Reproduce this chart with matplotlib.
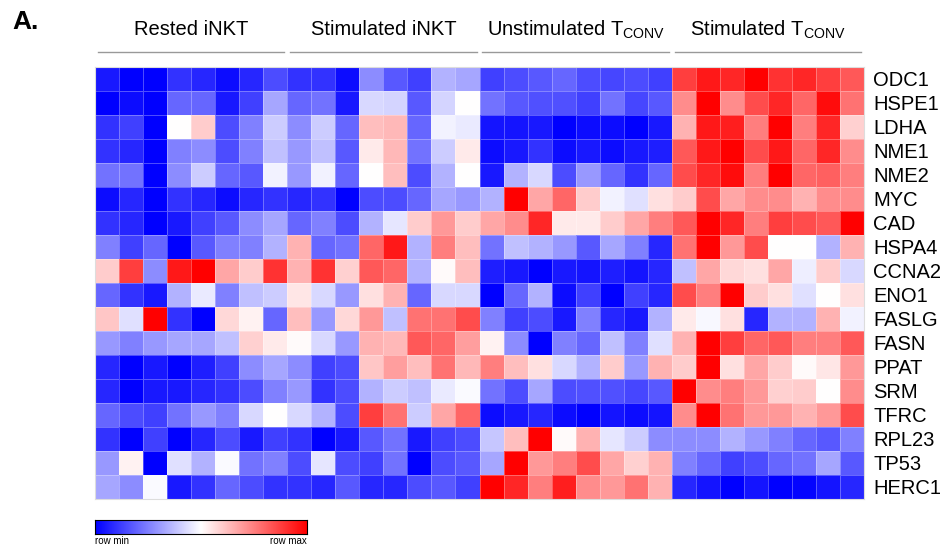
import numpy as np
import matplotlib
matplotlib.use("Agg")
import matplotlib.pyplot as plt
from matplotlib.colors import LinearSegmentedColormap
from matplotlib.transforms import blended_transform_factory

plt.rcParams['font.family'] = ['Liberation Sans', 'DejaVu Sans']
plt.rcParams['mathtext.fontset'] = 'custom'
plt.rcParams['mathtext.rm'] = 'Liberation Sans'
plt.rcParams['mathtext.it'] = 'Liberation Sans:italic'

genes = ['ODC1', 'HSPE1', 'LDHA', 'NME1', 'NME2', 'MYC', 'CAD', 'HSPA4', 'CCNA2',
         'ENO1', 'FASLG', 'FASN', 'PPAT', 'SRM', 'TFRC', 'RPL23', 'TP53', 'HERC1']

groups = ['Rested iNKT', 'Stimulated iNKT',
          r'Unstimulated T$_{\mathrm{CONV}}$', r'Stimulated T$_{\mathrm{CONV}}$']

# row-scaled expression (-1 = row min, +1 = row max), 8 samples per group
rested_inkt = [
    [-0.9, -1.0, -1.0, -0.8, -0.85, -0.95, -0.85, -0.7],
    [-1.0, -0.95, -1.0, -0.6, -0.6, -0.9, -0.75, -0.35],
    [-0.8, -0.75, -1.0, 0.0, 0.2, -0.7, -0.5, -0.2],
    [-0.8, -0.85, -1.0, -0.5, -0.45, -0.7, -0.5, -0.25],
    [-0.55, -0.55, -1.0, -0.45, -0.2, -0.6, -0.65, -0.05],
    [-0.95, -0.85, -1.0, -0.8, -0.85, -0.95, -0.85, -0.8],
    [-0.8, -0.85, -1.0, -0.9, -0.75, -0.65, -0.45, -0.35],
    [-0.5, -0.75, -0.6, -1.0, -0.65, -0.5, -0.5, -0.3],
    [0.2, 0.75, -0.45, 0.9, 1.0, 0.35, 0.2, 0.8],
    [-0.6, -0.8, -0.9, -0.3, -0.08, -0.5, -0.25, -0.2],
    [0.22, -0.12, 1.0, -0.8, -1.0, 0.15, 0.05, -0.6],
    [-0.4, -0.5, -0.4, -0.35, -0.35, -0.25, 0.18, 0.08],
    [-0.85, -1.0, -0.9, -1.0, -0.88, -0.75, -0.45, -0.35],
    [-0.85, -1.0, -0.9, -0.9, -0.85, -0.8, -0.7, -0.5],
    [-0.6, -0.7, -0.75, -0.55, -0.4, -0.5, -0.15, 0.0],
    [-0.8, -1.0, -0.75, -1.0, -0.85, -0.7, -0.9, -0.75],
    [-0.4, 0.05, -1.0, -0.12, -0.3, -0.02, -0.55, -0.5],
    [-0.35, -0.45, -0.02, -0.9, -0.8, -0.6, -0.7, -0.8],
]

stim_inkt = [
    [-0.8, -0.8, -0.95, -0.45, -0.65, -0.75, -0.3, -0.35],
    [-0.6, -0.55, -0.9, -0.15, -0.17, -0.65, -0.17, 0.0],
    [-0.45, -0.2, -0.6, 0.25, 0.28, -0.6, -0.05, -0.08],
    [-0.4, -0.25, -0.65, 0.08, 0.28, -0.55, -0.2, 0.08],
    [-0.4, -0.05, -0.6, 0.0, 0.25, -0.7, -0.3, 0.0],
    [-0.85, -0.8, -1.0, -0.7, -0.7, -0.6, -0.35, -0.4],
    [-0.6, -0.5, -0.7, -0.3, -0.1, 0.2, 0.4, 0.2],
    [0.3, -0.6, -0.55, 0.6, 0.9, -0.3, 0.5, 0.25],
    [0.3, 0.8, 0.18, 0.65, 0.6, -0.3, 0.02, 0.25],
    [0.1, -0.15, -0.4, 0.12, 0.3, -0.6, -0.15, -0.15],
    [0.25, -0.4, 0.15, 0.4, -0.25, 0.55, 0.55, 0.7],
    [0.02, -0.15, -0.4, 0.3, 0.28, 0.65, 0.6, 0.38],
    [-0.45, -0.75, -0.7, 0.22, 0.38, 0.25, 0.55, 0.28],
    [-0.4, -0.8, -0.7, -0.3, -0.2, -0.25, -0.08, -0.02],
    [-0.15, -0.3, -0.7, 0.75, 0.55, -0.2, 0.35, 0.6],
    [-0.8, -1.0, -0.9, -0.65, -0.55, -0.9, -0.75, -0.7],
    [-0.7, -0.1, -0.7, -0.75, -0.55, -1.0, -0.7, -0.65],
    [-0.8, -0.85, -0.65, -0.85, -0.85, -0.7, -0.65, -0.75],
]

unstim_tconv = [
    [-0.75, -0.7, -0.65, -0.6, -0.7, -0.72, -0.7, -0.75],
    [-0.55, -0.65, -0.68, -0.68, -0.75, -0.55, -0.72, -0.65],
    [-0.92, -0.92, -0.9, -1.0, -0.95, -0.95, -1.0, -0.9],
    [-0.95, -0.9, -0.8, -0.95, -0.9, -0.95, -0.9, -0.88],
    [-0.9, -0.3, -0.15, -0.7, -0.4, -0.6, -0.8, -0.6],
    [-0.3, 1.0, 0.35, 0.6, 0.2, -0.05, -0.12, 0.12],
    [0.35, 0.45, 0.85, 0.08, 0.08, 0.2, 0.35, 0.5],
    [-0.55, -0.25, -0.3, -0.4, -0.65, -0.35, -0.5, -0.85],
    [-0.88, -0.9, -1.0, -0.9, -0.92, -0.88, -0.92, -0.85],
    [-1.0, -0.6, -0.3, -0.95, -0.75, -1.0, -0.75, -0.85],
    [-0.5, -0.75, -0.7, -0.9, -0.5, -0.85, -0.9, -0.3],
    [0.05, -0.45, -1.0, -0.5, -0.6, -0.25, -0.5, -0.12],
    [0.5, 0.25, 0.12, -0.15, -0.3, 0.2, -0.4, 0.3],
    [-0.55, -0.7, -0.35, -0.7, -0.68, -0.68, -0.72, -0.65],
    [-0.95, -0.9, -0.85, -0.95, -1.0, -0.92, -0.95, -0.92],
    [-0.22, 0.25, 1.0, 0.02, 0.3, -0.1, -0.2, -0.45],
    [-0.35, 1.0, 0.4, 0.5, 0.7, 0.35, 0.18, 0.3],
    [1.0, 0.85, 0.5, 0.88, 0.45, 0.4, 0.55, 0.3],
]

stim_tconv = [
    [0.75, 0.9, 0.85, 1.0, 0.8, 0.85, 0.75, 0.65],
    [0.45, 1.0, 0.45, 0.7, 0.85, 0.6, 0.95, 0.55],
    [0.3, 0.9, 0.88, 0.5, 1.0, 0.5, 0.85, 0.18],
    [0.65, 0.9, 1.0, 0.7, 0.9, 0.6, 0.85, 0.45],
    [0.7, 0.85, 0.95, 0.5, 1.0, 0.6, 0.62, 0.5],
    [0.2, 0.7, 0.35, 0.45, 0.45, 0.3, 0.45, 0.45],
    [0.65, 1.0, 0.85, 0.5, 0.75, 0.7, 0.65, 1.0],
    [0.55, 1.0, 0.4, 0.7, 0.0, 0.0, -0.3, 0.3],
    [-0.25, 0.35, 0.15, 0.12, 0.35, -0.07, 0.2, -0.15],
    [0.7, 0.5, 1.0, 0.2, 0.12, -0.12, 0.0, 0.12],
    [0.08, -0.03, 0.12, -0.85, -0.3, -0.3, 0.3, -0.05],
    [0.3, 1.0, 0.75, 0.6, 0.65, 0.5, 0.5, 0.65],
    [0.2, 1.0, 0.12, 0.35, 0.2, 0.02, 0.1, 0.4],
    [1.0, 0.45, 0.5, 0.4, 0.18, 0.2, 0.0, 0.45],
    [0.45, 1.0, 0.55, 0.4, 0.4, 0.3, 0.4, 0.7],
    [-0.45, -0.45, -0.3, -0.4, -0.5, -0.6, -0.65, -0.5],
    [-0.5, -0.6, -0.75, -0.7, -0.6, -0.55, -0.35, -0.65],
    [-0.85, -0.92, -1.0, -0.92, -1.0, -0.98, -0.92, -0.85],
]

data = np.hstack([rested_inkt, stim_inkt, unstim_tconv, stim_tconv])
n_rows, n_cols = data.shape
per_group = n_cols // len(groups)

cmap = LinearSegmentedColormap.from_list('bwr_rowscale', ['#0000ff', '#ffffff', '#ff0000'])

fig = plt.figure(figsize=(9.44, 5.48), dpi=100)
ax = fig.add_axes([95 / 944, 49 / 548, 769 / 944, 432 / 548])

ax.pcolormesh(data, cmap=cmap, vmin=-1, vmax=1,
              edgecolors=(1, 1, 1, 0.3), linewidth=0.6)
ax.set_xlim(0, n_cols)
ax.set_ylim(n_rows, 0)

ax.set_xticks([])
ax.set_yticks(np.arange(n_rows) + 0.5)
ax.set_yticklabels(genes, fontsize=14.5)
ax.tick_params(axis='y', left=False, labelleft=False, right=False, labelright=True, pad=3)
for s in ax.spines.values():
    s.set_color('#dddddd')
    s.set_linewidth(0.8)

# group headers with underline
trans = blended_transform_factory(ax.transData, ax.transAxes)
for i, name in enumerate(groups):
    x0 = i * per_group
    ax.plot([x0 + 0.12, x0 + per_group - 0.12], [1.035, 1.035], color='#999999',
            lw=1.0, transform=trans, clip_on=False)
    ax.text(x0 + per_group / 2, 1.087, name, transform=trans, ha='center', va='center',
            fontsize=14.5)

fig.text(12 / 944, 1 - 22 / 548, 'A.', fontsize=19, fontweight='bold', va='center', ha='left')

# colour key
cax = fig.add_axes([95 / 944, 14 / 548, 212 / 944, 14 / 548])
cax.imshow(np.linspace(-1, 1, 256)[None, :], aspect='auto', cmap=cmap, vmin=-1, vmax=1)
cax.set_xticks([])
cax.set_yticks([])
for s in cax.spines.values():
    s.set_linewidth(0.8)
fig.text(95 / 944, 7 / 548, 'row min', fontsize=7, ha='left', va='center')
fig.text(307 / 944, 7 / 548, 'row max', fontsize=7, ha='right', va='center')

fig.savefig('out.png', dpi=100)
